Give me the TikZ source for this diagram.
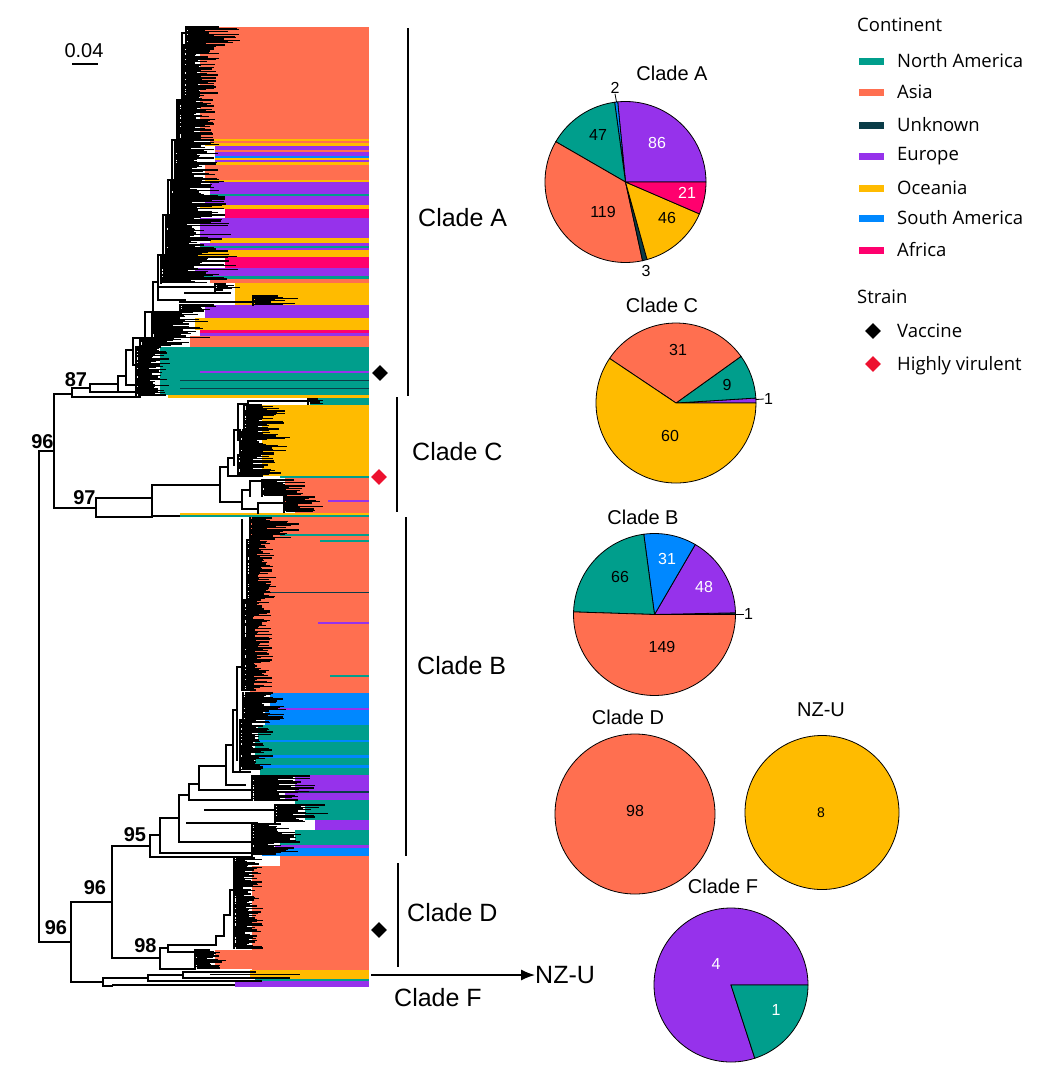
\documentclass[tikz,border=0pt]{standalone}
\usepackage{fontspec}
\setmainfont{Liberation Sans}
\newfontfamily\legfont{Open Sans}
\usetikzlibrary{shapes.geometric,arrows.meta}
\definecolor{cNA}{RGB}{0,158,140}
\definecolor{cAS}{RGB}{255,111,80}
\definecolor{cUN}{RGB}{10,60,72}
\definecolor{cEU}{RGB}{150,50,235}
\definecolor{cOC}{RGB}{255,187,0}
\definecolor{cSA}{RGB}{0,136,255}
\definecolor{cAF}{RGB}{255,0,110}
\definecolor{cRED}{RGB}{237,17,47}
\newcommand\band[4]{\fill[#4] (#3,#1) rectangle (369,#2);}
\newcommand\hairs[4]{%
  \pgfmathsetmacro\hysec{#1+1.2}%
  \pgfmathsetmacro\hw{#4-#3}%
  \draw[treeline] (#3,#1) -- (#3,#2);
  \foreach \yy in {#1,\hysec,...,#2}{%
    \pgfmathsetmacro\xa{#3+2*rnd}%
    \pgfmathsetmacro\xb{\xa+\hw*(0.3+0.7*rnd)}%
    \draw[hairline] (\xa,\yy) -- (\xb,\yy);
  }}
\newcommand\slice[6]{%
  \pgfmathsetmacro\sa{-(#4)}\pgfmathsetmacro\sb{-(#5)}%
  \filldraw[fill=#6,draw=black,line width=0.8pt] (#1,#2) -- ++(\sa:#3) arc[start angle=\sa,end angle=\sb,radius=#3] -- cycle;}
\begin{document}
\begin{tikzpicture}[x=1pt,y=-1pt,
  treeline/.style={line width=1.4pt,line cap=rect},
  hairline/.style={line width=1.3pt,black},
  bar/.style={line width=1.2pt},
  cladelab/.style={font=\fontsize{25}{30}\selectfont,inner sep=0},
  boot/.style={font=\bfseries\fontsize{20}{24}\selectfont,inner sep=0},
  pietitle/.style={font=\fontsize{20}{24}\selectfont,inner sep=0},
  pienum/.style={font=\fontsize{16}{19}\selectfont,inner sep=0},
  legtext/.style={font=\legfont\fontsize{18.5}{22}\selectfont,anchor=west,inner sep=0},
  swatch/.style={minimum width=25pt,minimum height=7pt,inner sep=0},
  strainmark/.style={diamond,inner sep=0,minimum size=16pt}]
\useasboundingbox[fill=white] (0,0) rectangle (1042,1076);
\pgfmathsetseed{12}
% ---------- colour bands ----------
% Clade A
\band{27}{139}{200}{cAS}
\band{139}{141}{210}{cOC}
\band{141}{143}{210}{cAS}
\band{143}{146}{205}{cOC}
\band{146}{150}{215}{cEU}
\band{150}{152}{215}{cAS}
\band{152}{156}{215}{cEU}
\band{156}{158}{215}{cSA}
\band{158}{160}{215}{cOC}
\band{160}{162}{215}{cEU}
\band{162}{165}{210}{cOC}
\band{165}{180}{205}{cAS}
\band{180}{182}{205}{cOC}
\band{182}{194}{210}{cEU}
\band{194}{195.5}{210}{cNA}
\band{195.5}{205}{205}{cEU}
\band{205}{209}{200}{cOC}
\band{209}{218}{225}{cAF}
\band{218}{238}{200}{cEU}
\band{238}{243}{210}{cOC}
\band{243}{246}{200}{cEU}
\band{246}{248}{200}{cNA}
\band{248}{250}{200}{cEU}
\band{250}{257}{195}{cOC}
\band{257}{268}{225}{cAF}
\band{268}{276}{195}{cEU}
\band{276}{279}{200}{cNA}
\band{279}{283}{210}{cAS}
\band{283}{305}{235}{cOC}
\band{305}{318}{205}{cEU}
\band{318}{330}{195}{cOC}
\band{330}{333}{200}{cAF}
\band{333}{336}{200}{cEU}
\band{336}{347}{190}{cAS}
\band{347}{395}{160}{cNA}
\band{371}{373}{200}{cEU}
\band{380}{381}{180}{cUN}
\band{388}{389}{180}{cUN}
\band{395}{398}{168}{cOC}
% Clade C
\band{398}{405}{310}{cNA}
\band{405}{476}{262}{cOC}
\band{476}{478}{280}{cNA}
\band{478}{500}{285}{cAS}
\band{500}{501.5}{285}{cAS}
\band{500}{501.5}{328}{cEU}
\band{501.5}{513}{295}{cAS}
\band{513}{515}{180}{cOC}
\band{515}{516.5}{180}{cNA}
% Clade B
\band{516.5}{693}{250}{cAS}
\band{516.5}{534}{265}{cAS}
\band{534}{536}{280}{cNA}
\band{540}{542}{320}{cNA}
\band{592}{593}{250}{cUN}
\band{622}{623.5}{318}{cEU}
\band{675}{677}{330}{cNA}
\band{693}{708}{270}{cSA}
\band{708}{710}{265}{cEU}
\band{710}{725}{265}{cSA}
\band{725}{740}{258}{cNA}
\band{740}{742}{258}{cSA}
\band{742}{755}{255}{cNA}
\band{755}{758}{255}{cSA}
\band{758}{765}{255}{cNA}
\band{765}{768}{258}{cSA}
\band{768}{775}{260}{cNA}
\band{775}{791}{295}{cEU}
\band{791}{792.5}{295}{cUN}
\band{792.5}{800}{285}{cEU}
\band{800}{805}{295}{cNA}
\band{805}{820}{305}{cNA}
\band{820}{830}{315}{cEU}
\band{830}{840}{295}{cNA}
\band{840}{845}{280}{cNA}
\band{845}{848}{275}{cEU}
\band{848}{856}{262}{cSA}
% Clade D
\band{856}{866}{280}{cAS}
\band{866}{970}{252}{cAS}
\band{950}{969}{215}{cAS}
% Clade F
\band{970}{979}{250}{cOC}
\band{979}{981}{255}{cNA}
\band{981}{987}{235}{cEU}
% ---------- dense tips ----------
\hairs{27}{45}{186}{240}
\hairs{45}{100}{184}{218}
\hairs{100}{140}{179}{215}
\hairs{140}{180}{175}{218}
\hairs{180}{215}{171}{225}
\hairs{215}{255}{166}{232}
\hairs{255}{283}{161}{238}
\hairs{284}{291}{215}{240}
\hairs{296}{305}{253}{297}
\hairs{305}{312}{180}{215}
\hairs{312}{338}{152}{210}
\hairs{338}{347}{140}{190}
\hairs{347}{396}{136}{170}
\hairs{399}{404}{308}{322}
\hairs{405}{430}{244}{285}
\hairs{430}{455}{240}{290}
\hairs{455}{476}{238}{282}
\hairs{480}{496}{262}{305}
\hairs{497}{512}{284}{325}
\hairs{518}{540}{250}{298}
\hairs{540}{600}{247}{275}
\hairs{600}{690}{244}{272}
\hairs{693}{720}{243}{288}
\hairs{720}{770}{240}{272}
\hairs{776}{800}{252}{316}
\hairs{805}{822}{275}{330}
\hairs{824}{855}{252}{300}
\hairs{858}{948}{234}{262}
\hairs{950}{968}{195}{228}
% ---------- tree skeleton ----------
% root
\draw[treeline] (39,451) -- (39,942) (39,942) -- (71,942) (39,451) -- (54,451) (54,394) -- (54,508);
% clade A
\draw[treeline] (54,394) -- (72,394) (72,388) -- (72,397) (72,397) -- (140,397)
  (72,388) -- (90,388) (90,384) -- (90,392) (90,392) -- (118,392) (90,384) -- (118,384)
  (118,392) -- (118,376) -- (126,376) (118,392) -- (140,392)
  (126,385) -- (126,350) -- (133,350) (126,385) -- (140,385)
  (133,365) -- (133,338) -- (145,338) (133,365) -- (145,365)
  (145,345) -- (145,312) -- (153,312) (145,345) -- (160,345)
  (153,330) -- (153,282) -- (158,282) (153,330) -- (175,330)
  (158,300) -- (158,255) -- (163,255) (158,300) -- (185,300)
  (163,265) -- (163,215) -- (168,215) (163,265) -- (180,265)
  (168,225) -- (168,180) -- (172,180) (168,225) -- (180,225)
  (172,190) -- (172,140) -- (177,140) (172,190) -- (185,190)
  (177,150) -- (177,100) -- (182,100) (177,150) -- (190,150)
  (182,110) -- (182,33) -- (200,33) (182,110) -- (195,110)
  (158,287) -- (215,287) (180,302) -- (253,302) (185,293) -- (230,293);
% clade C
\draw[treeline] (54,508) -- (96,508) (96,498) -- (96,517) (96,498) -- (152,498) (96,517) -- (152,517)
  (152,485) -- (152,517) (152,485) -- (220,485) (220,467) -- (220,502) (220,467) -- (228,467)
  (228,458) -- (228,476) (228,476) -- (262,476) (228,458) -- (234,458) (234,430) -- (234,465)
  (234,430) -- (238,430) (238,404) -- (238,440) (238,404) -- (248,404) (248,401) -- (248,406)
  (248,401) -- (310,401)
  (220,502) -- (242,502) (242,490) -- (242,509) (242,490) -- (250,490) (250,481) -- (250,496)
  (250,481) -- (265,481) (242,509) -- (258,509) (258,503) -- (258,513) (258,503) -- (285,503);
\draw[line width=2.5pt] (152,516) -- (180,516);
% clades B, D, F
\draw[treeline] (71,902) -- (71,982) (71,902) -- (112,902) (112,846) -- (112,958)
  (112,846) -- (150,846) (150,835) -- (150,857) (150,857) -- (252,857) (150,835) -- (160,835)
  (160,818) -- (160,853) (160,853) -- (252,853) (160,818) -- (179,818)
  (179,795) -- (179,842) (179,842) -- (252,842) (179,795) -- (189,795)
  (189,784) -- (189,800) (189,800) -- (252,800) (189,784) -- (199,784)
  (199,766) -- (199,790) (199,790) -- (252,790) (199,766) -- (226,766)
  (226,745) -- (226,785) (226,785) -- (245,785) (226,745) -- (233,745)
  (233,710) -- (233,772) (233,772) -- (250,772) (233,710) -- (237,710)
  (237,667) -- (237,760) (237,667) -- (242,667) (242,520) -- (242,690)
  (187,823) -- (257,823) (205,810) -- (275,810)
  (112,958) -- (160,958) (160,948) -- (160,969) (160,969) -- (195,969) (160,948) -- (168,948)
  (168,945) -- (168,952) (168,945) -- (216,945) (216,945) -- (216,936) -- (224,936)
  (224,936) -- (224,915) -- (230,915) (230,915) -- (230,890) -- (235,890) (235,890) -- (235,862) -- (245,862)
  (168,952) -- (200,952)
  (71,982) -- (103,982) (103,978) -- (103,986) (103,978) -- (148,978) (148,975) -- (148,981)
  (148,975) -- (183,975) (183,972) -- (183,978) (183,972) -- (255,972) (103,986) -- (112,986);
\draw[line width=2.5pt] (112,985) -- (235,985);
\draw[line width=2pt] (148,981) -- (262,981);
\draw[line width=1.5pt] (183,978) -- (290,978);
\draw[line width=1.2pt] (210,974.5) -- (300,974.5);
% ---------- bootstrap values and scale ----------
\node[boot] (b87) at (76,380) {87};
\node[boot] (b96a) at (42.5,442) {96};
\node[boot] (b97) at (84.5,498) {97};
\node[boot] (b95) at (135,835) {95};
\node[boot] (b96b) at (95,888) {96};
\node[boot] (b98) at (145.5,946) {98};
\node[boot] (b96c) at (56,928) {96};
\node[inner sep=0,font=\fontsize{20}{24}\selectfont] (scale) at (84,51) {0.04};
\coordinate (sbl) at (72,64); \coordinate (sbr) at (98,64);
\draw[line width=1.3pt] (sbl) -- (sbr);
% ---------- clade bars and labels ----------
\coordinate (aT) at (408,28); \coordinate (aB) at (408,396);
\coordinate (cT) at (397,397); \coordinate (cB) at (397,512);
\coordinate (bT) at (406,517); \coordinate (bB) at (406,856);
\coordinate (dT) at (398,863); \coordinate (dB) at (398,967);
\draw[bar] (aT) -- (aB); \draw[bar] (cT) -- (cB); \draw[bar] (bT) -- (bB); \draw[bar] (dT) -- (dB);
\node[cladelab,anchor=west] (labA) at (418,218) {Clade A};
\node[cladelab,anchor=west] (labC) at (412,452) {Clade C};
\node[cladelab,anchor=west] (labB) at (417,666) {Clade B};
\node[cladelab,anchor=west] (labD) at (407,913) {Clade D};
\node[cladelab] (labF) at (438,998) {Clade F};
\node[cladelab,anchor=west] (nzu) at (535,975) {NZ-U};
\coordinate (arrS) at (371,975);
\draw[line width=1.3pt,-{Latex[length=14pt,width=11pt]}] (arrS) -- (nzu.west);
\node[strainmark,fill=black] (vacA) at (380,373) {};
\node[strainmark,fill=cRED] (hvC) at (379,477) {};
\node[strainmark,fill=black] (vacD) at (379,930) {};
% ---------- pies ----------
% Clade A
\slice{625.5}{182}{80.5}{0}{95.56}{cEU}
\slice{625.5}{182}{80.5}{95.56}{97.78}{cSA}
\slice{625.5}{182}{80.5}{97.78}{150}{cNA}
\slice{625.5}{182}{80.5}{150}{282.22}{cAS}
\slice{625.5}{182}{80.5}{282.22}{285.56}{cUN}
\slice{625.5}{182}{80.5}{285.56}{336.67}{cOC}
\slice{625.5}{182}{80.5}{336.67}{360}{cAF}
\node[pietitle] (tA) at (672,73) {Clade A};
\node[pienum] (a47) at (598,135) {47};
\node[pienum,text=white] (a86) at (657,143) {86};
\node[pienum,text=white] (a21) at (687,193) {21};
\node[pienum] (a46) at (667,218) {46};
\node[pienum] (a119) at (603,212) {119};
\node[pienum] (a2) at (615,88) {2};
\node[pienum] (a3) at (646,271) {3};
\coordinate (a2p) at (616.5,102);
\draw[line width=0.8pt] (a2p) -- (a2.south);
% Clade C
\slice{676}{403}{80}{0}{3.56}{cEU}
\slice{676}{403}{80}{3.56}{35.64}{cNA}
\slice{676}{403}{80}{35.64}{146.14}{cAS}
\slice{676}{403}{80}{146.14}{360}{cOC}
\node[pietitle] (tC) at (662,305) {Clade C};
\node[pienum] (c31) at (678,350) {31};
\node[pienum] (c9) at (727,385) {9};
\node[pienum] (c60) at (670,436) {60};
\node[pienum,anchor=west] (c1) at (764,399) {1};
\coordinate (c1p) at (756,399.5);
\draw[line width=0.8pt] (c1p) -- (c1.west);
% Clade B
\slice{654.5}{614.5}{81}{0}{1.22}{cUN}
\slice{654.5}{614.5}{81}{1.22}{59.8}{cEU}
\slice{654.5}{614.5}{81}{59.8}{97.63}{cSA}
\slice{654.5}{614.5}{81}{97.63}{178.17}{cNA}
\slice{654.5}{614.5}{81}{178.17}{360}{cAS}
\node[pietitle] (tB) at (643,517) {Clade B};
\node[pienum] (b66) at (620,577) {66};
\node[pienum,text=white] (b31) at (667,559) {31};
\node[pienum,text=white] (b48) at (704,587) {48};
\node[pienum] (b149) at (662,647) {149};
\node[pienum,anchor=west] (b1) at (744,614) {1};
\coordinate (b1p) at (735.5,614);
\draw[line width=0.8pt] (b1p) -- (b1.west);
% Clade D
\filldraw[fill=cAS,draw=black,line width=0.8pt] (635,814) circle[radius=80];
\node[pietitle] (tD) at (628,717) {Clade D};
\node[pienum] (d98) at (635,811) {98};
% NZ-U
\filldraw[fill=cOC,draw=black,line width=0.8pt] (822,812.5) circle[radius=77];
\node[pietitle] (tN) at (821,710) {NZ-U};
\node[pienum,font=\fontsize{14}{17}\selectfont] (n8) at (821,813) {8};
% Clade F
\slice{731}{985}{77}{0}{288}{cEU}
\slice{731}{985}{77}{288}{360}{cNA}
\node[pietitle] (tF) at (723,886) {Clade F};
\node[pienum,text=white] (f4) at (716,964) {4};
\node[pienum,text=white] (f1) at (776,1010) {1};
% ---------- legend ----------
\node[legtext] (lgC) at (857,25) {Continent};
\node[swatch,fill=cNA] (s1) at (871.5,61) {};
\node[legtext] (l1) at (897,61) {North America};
\node[swatch,fill=cAS] (s2) at (871.5,92) {};
\node[legtext] (l2) at (897,92) {Asia};
\node[swatch,fill=cUN] (s3) at (871.5,125) {};
\node[legtext] (l3) at (897,125) {Unknown};
\node[swatch,fill=cEU] (s4) at (871.5,156) {};
\node[legtext] (l4) at (897,156) {Europe};
\node[swatch,fill=cOC] (s5) at (871.5,188) {};
\node[legtext] (l5) at (897,188) {Oceania};
\node[swatch,fill=cSA] (s6) at (871.5,218) {};
\node[legtext] (l6) at (897,218) {South America};
\node[swatch,fill=cAF] (s7) at (871.5,250) {};
\node[legtext] (l7) at (897,250) {Africa};
\node[legtext] (lgS) at (857,297) {Strain};
\node[strainmark,fill=black] (m1) at (873,331) {};
\node[legtext] (lv) at (897,331) {Vaccine};
\node[strainmark,fill=cRED] (m2) at (873,364) {};
\node[legtext] (lh) at (897,366) {Highly virulent};
\end{tikzpicture}
\end{document}
